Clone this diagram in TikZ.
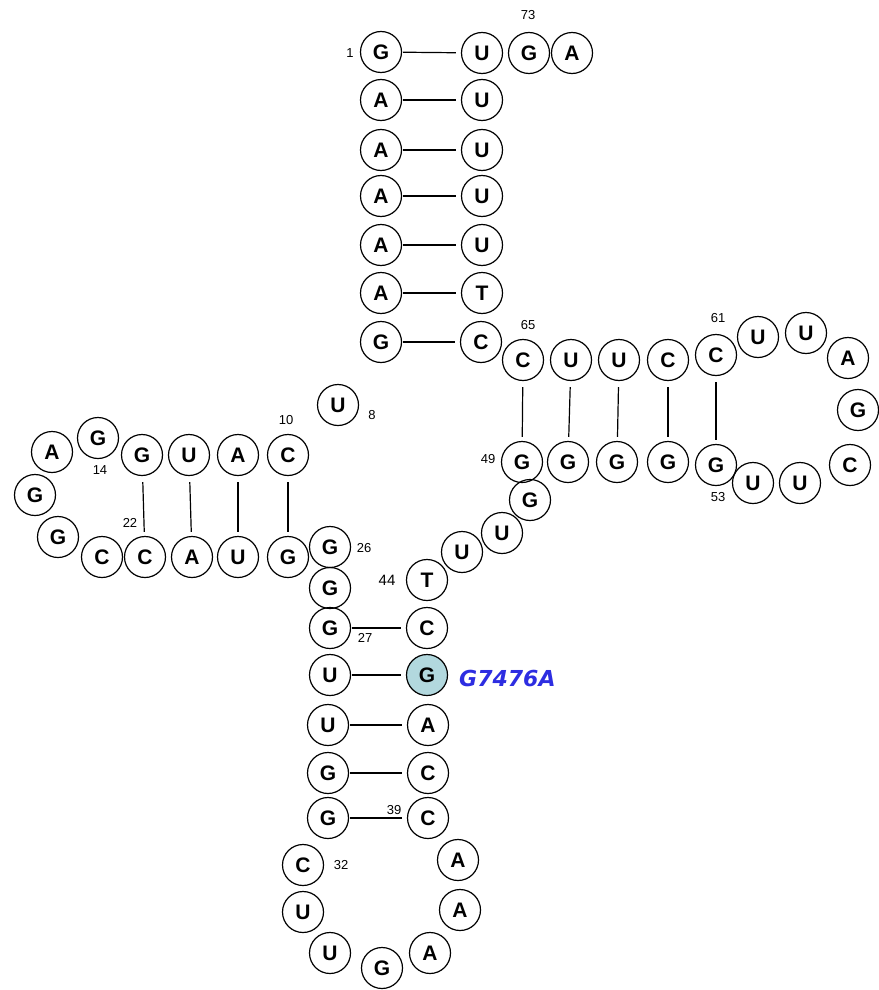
\documentclass[tikz,border=0pt]{standalone}
\usepackage{fontspec}
\setmainfont{Liberation Sans}
\newfontfamily\ntfont{Liberation Sans}
\newfontfamily\mutfont{DejaVu Sans}
\definecolor{hl}{RGB}{178,216,222}
\definecolor{mutblue}{RGB}{45,45,225}
\begin{document}
\begin{tikzpicture}[x=1pt,y=-1pt,
  nt/.style={circle,draw,line width=1.2pt,minimum size=41pt,inner sep=0pt,font=\ntfont\bfseries\fontsize{21}{21}\selectfont},
  num/.style={font=\fontsize{13}{13}\selectfont,inner sep=0pt},
  hpair/.style={line width=1.2pt,shorten <=1pt,shorten >=5pt},
  vpair/.style={line width=1.2pt,shorten <=6pt,shorten >=4pt}]
\useasboundingbox (0,0) rectangle (878,990);
% acceptor stem 5'
\node[nt] (n1) at (381,52) {G};
\node[nt] (n2) at (381,100) {A};
\node[nt] (n3) at (381,150) {A};
\node[nt] (n4) at (381,196) {A};
\node[nt] (n5) at (381,245) {A};
\node[nt] (n6) at (381,293) {A};
\node[nt] (n7) at (381,342) {G};
\node[nt] (n8) at (338,405) {U};
% D arm
\node[nt] (n9) at (288,455) {C};
\node[nt] (n10) at (238,455) {A};
\node[nt] (n11) at (189,455) {U};
\node[nt] (n12) at (142,455) {G};
\node[nt] (n13) at (98,438) {G};
\node[nt] (n14) at (52,452) {A};
\node[nt] (n15) at (35,495) {G};
\node[nt] (n16) at (58,537) {G};
\node[nt] (n17) at (102,557) {C};
\node[nt] (n18) at (145,557) {C};
\node[nt] (n19) at (192,557) {A};
\node[nt] (n20) at (238,557) {U};
\node[nt] (n21) at (288,557) {G};
\node[nt] (n22) at (330,547) {G};
% anticodon arm
\node[nt] (n23) at (330,588) {G};
\node[nt] (n24) at (330,628) {G};
\node[nt] (n25) at (330,675) {U};
\node[nt] (n26) at (328,725) {U};
\node[nt] (n27) at (328,773) {G};
\node[nt] (n28) at (328,818) {G};
\node[nt] (n29) at (303,865) {C};
\node[nt] (n30) at (303,912) {U};
\node[nt] (n31) at (330,953) {U};
\node[nt] (n32) at (382,968) {G};
\node[nt] (n33) at (430,953) {A};
\node[nt] (n34) at (460,910) {A};
\node[nt] (n35) at (458,860) {A};
\node[nt] (n36) at (428,818) {C};
\node[nt] (n37) at (428,773) {C};
\node[nt] (n38) at (428,725) {A};
\node[nt,fill=hl] (n39) at (427,675) {G};
\node[nt] (n40) at (427,628) {C};
\node[nt] (n41) at (427,580) {T};
\node[nt] (n42) at (462,552) {U};
\node[nt] (n43) at (502,533) {U};
\node[nt] (n44) at (530,500) {G};
% T arm
\node[nt] (n45) at (522,462) {G};
\node[nt] (n46) at (568,462) {G};
\node[nt] (n47) at (617,462) {G};
\node[nt] (n48) at (668,462) {G};
\node[nt] (n49) at (716,465) {G};
\node[nt] (n50) at (753,483) {U};
\node[nt] (n51) at (800,483) {U};
\node[nt] (n52) at (850,465) {C};
\node[nt] (n53) at (858,410) {G};
\node[nt] (n54) at (848,358) {A};
\node[nt] (n55) at (806,333) {U};
\node[nt] (n56) at (758,337) {U};
\node[nt] (n57) at (716,355) {C};
\node[nt] (n58) at (668,360) {C};
\node[nt] (n59) at (619,360) {U};
\node[nt] (n60) at (571,360) {U};
\node[nt] (n61) at (523,360) {C};
% acceptor stem 3'
\node[nt] (n62) at (481,342) {C};
\node[nt] (n63) at (482,293) {T};
\node[nt] (n64) at (482,245) {U};
\node[nt] (n65) at (482,196) {U};
\node[nt] (n66) at (482,150) {U};
\node[nt] (n67) at (482,100) {U};
\node[nt] (n68) at (482,53) {U};
\node[nt] (n69) at (529,53) {G};
\node[nt] (n70) at (572,53) {A};
% pairs
\foreach \a/\b in {n1/n68,n2/n67,n3/n66,n4/n65,n5/n64,n6/n63,n7/n62,
                   n24/n40,n25/n39,n26/n38,n27/n37,n28/n36}
  \draw[hpair] (\a) -- (\b);
\foreach \a/\b in {n9/n21,n10/n20,n11/n19,n12/n18,
                   n61/n45,n60/n46,n59/n47,n58/n48,n57/n49}
  \draw[vpair] (\a) -- (\b);
% numbers
\node[num] (l73) at (528,15) {73};
\node[num] (l1) at (350,53) {1};
\node[num] (l65) at (528,325) {65};
\node[num] (l61) at (718,318) {61};
\node[num] (l49) at (488,459) {49};
\node[num] (l53) at (718,497) {53};
\node[num] (l10) at (286,420) {10};
\node[num] (l8) at (372,415) {8};
\node[num] (l14) at (100,470) {14};
\node[num] (l22) at (130,523) {22};
\node[num] (l26) at (364,548) {26};
\node[num,font=\fontsize{15}{15}\selectfont] (l44) at (387,580) {44};
\node[num] (l27) at (365,638) {27};
\node[num] (l39) at (394,810) {39};
\node[num] (l32) at (341,865) {32};
\node[anchor=west,inner sep=0pt,text=mutblue,font=\mutfont\bfseries\itshape\fontsize{22}{22}\selectfont] (mut) at (459,678) {G7476A};
\end{tikzpicture}
\end{document}
